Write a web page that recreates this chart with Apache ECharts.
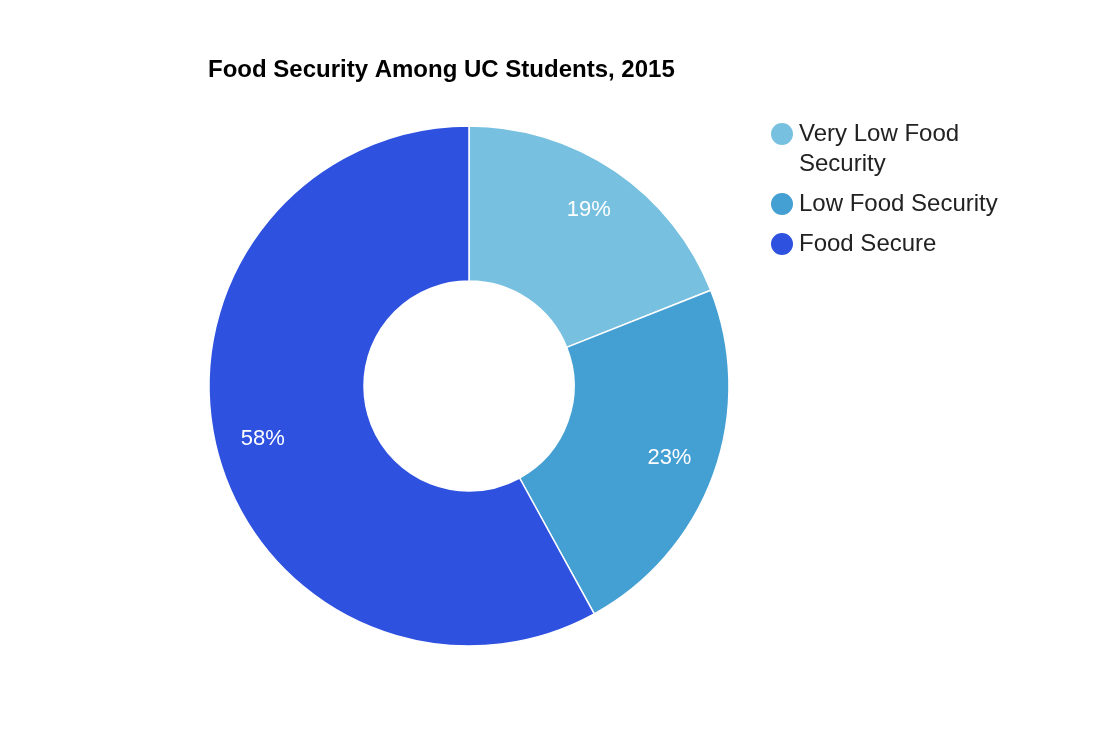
<!DOCTYPE html>
<html>
<head>
<meta charset="utf-8">
<title>Food Security Among UC Students, 2015</title>
<script src="https://cdn.jsdelivr.net/npm/echarts@6/dist/echarts.min.js"></script>
<style>
  html, body { margin: 0; padding: 0; background: #fff; }
  #chart { width: 1106px; height: 746px; }
</style>
</head>
<body>
<div id="chart"></div>
<script>
// data
var categories = ['Very Low Food Security', 'Low Food Security', 'Food Secure']
var shares = [19, 23, 58]
var colors = ['#78c0e0', '#449fd2', '#2e51e0']

var font = 'Arial, Liberation Sans, sans-serif'

var pieData = categories.map(function (name, i) {
  return { name: name, value: shares[i], itemStyle: { color: colors[i] } }
})
var labelData = categories.map(function (name, i) {
  return { name: name, value: shares[i] }
})

var myChart = echarts.init(document.getElementById('chart'))
myChart.setOption({
  animation: false,
  title: {
    text: 'Food Security Among UC Students, 2015',
    left: 208,
    top: 58,
    padding: 0,
    textStyle: { fontFamily: font, fontSize: 24, fontWeight: 'bold', color: '#000' }
  },
  legend: {
    orient: 'vertical',
    left: 769,
    top: 89,
    padding: 0,
    icon: 'circle',
    itemWidth: 24,
    itemHeight: 24,
    itemGap: 10,
    itemTextGap: 11,
    selectedMode: false,
    data: categories,
    // the long entry wraps; a blank first line keeps "Very Low Food" level with its dot
    formatter: function (name) {
      return name === categories[0] ? '\n' + name : name
    },
    textStyle: {
      fontFamily: font,
      fontSize: 24,
      color: '#222',
      lineHeight: 30,
      width: 215,
      overflow: 'break'
    }
  },
  series: [
    {
      name: 'Food Security',
      type: 'pie',
      center: [469, 386],
      radius: [105, 260],
      startAngle: 90,
      clockwise: true,
      silent: true,
      label: { show: false },
      labelLine: { show: false },
      itemStyle: { borderColor: '#fff', borderWidth: 1.5 },
      emphasis: { disabled: true },
      data: pieData
    },
    {
      // label ring only, so the percentages sit further out than mid-ring
      name: 'labels',
      type: 'pie',
      center: [469, 386],
      radius: [160, 260],
      startAngle: 90,
      clockwise: true,
      silent: true,
      itemStyle: { color: 'rgba(0,0,0,0)' },
      label: {
        show: true,
        position: 'inside',
        formatter: '{c}%',
        fontFamily: font,
        fontSize: 22,
        color: '#fff'
      },
      labelLine: { show: false },
      emphasis: { disabled: true },
      data: labelData
    }
  ]
})
</script>
</body>
</html>
